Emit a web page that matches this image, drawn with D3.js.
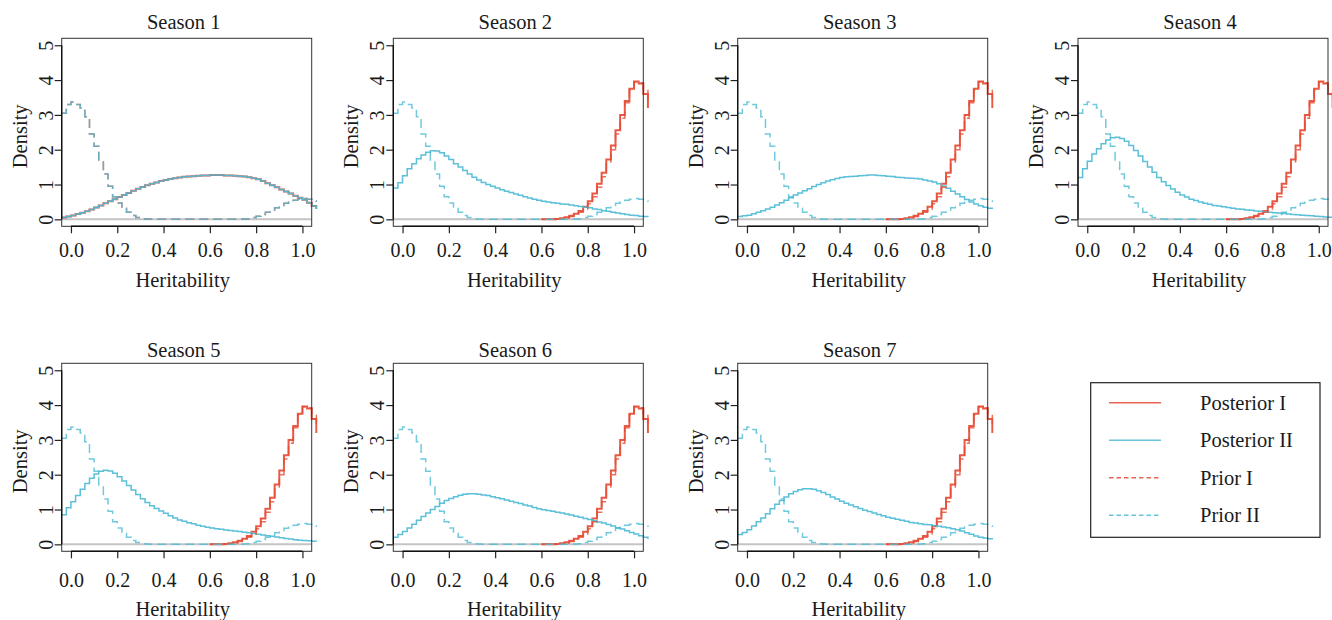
<!DOCTYPE html>
<html>
<head>
<meta charset="utf-8">
<script src="https://cdn.jsdelivr.net/npm/d3@7"></script>
<style>
  body { margin: 0; background: #fff; }
  svg text { font-family: "Liberation Serif", "DejaVu Serif", serif; fill: #1a1a1a; }
</style>
</head>
<body>
<div id="chart"></div>
<script>
// bin positions (step starts), width 0.02
var hx = [-0.04,-0.02,0.00,0.02,0.04,0.06,0.08,0.10,0.12,0.14,0.16,0.18,0.20,0.22,0.24,0.26,0.28,0.30,0.32,0.34,
  0.36,0.38,0.40,0.42,0.44,0.46,0.48,0.50,0.52,0.54,0.56,0.58,0.60,0.62,0.64,0.66,0.68,0.70,0.72,0.74,
  0.76,0.78,0.80,0.82,0.84,0.86,0.88,0.90,0.92,0.94,0.96,0.98,1.00,1.02,1.04,1.06];
// red curves are only drawn from 0.6 on
var hxTail = [0.60,0.62,0.64,0.66,0.68,0.70,0.72,0.74,0.76,0.78,0.80,0.82,0.84,0.86,0.88,0.90,0.92,0.94,0.96,0.98,
  1.00,1.02,1.04,1.06];

var seasons = ["Season 1", "Season 2", "Season 3", "Season 4", "Season 5", "Season 6", "Season 7"];
var xTicks = [0, 0.2, 0.4, 0.6, 0.8, 1.0];
var yTicks = [0, 1, 2, 3, 4, 5];
var legendLabels = ["Posterior I", "Posterior II", "Prior I", "Prior II"];

// Prior II (same in every season, also Prior I of season 1)
var priorII = [3.05,3.30,3.37,3.30,3.20,2.95,2.45,2.10,1.65,1.30,0.95,0.65,0.47,0.32,0.20,0.11,0.05,0.02,0.01,
  0,0,0,0,0,0,0,0,0,0,0,0,0,0,0,0,0,0,0,0,
  0.01,0.02,0.05,0.09,0.14,0.20,0.27,0.33,0.40,0.46,0.50,0.55,0.58,0.60,0.58,0.53,0.50];

// season 1 posterior (I and II coincide)
var postS1 = [0.05,0.08,0.11,0.15,0.19,0.23,0.28,0.34,0.40,0.46,0.52,0.58,0.64,0.70,0.76,0.82,0.88,0.93,0.98,1.02,
  1.06,1.10,1.13,1.16,1.18,1.20,1.22,1.23,1.24,1.25,1.26,1.26,1.27,1.27,1.27,1.26,1.26,1.25,1.24,1.23,
  1.21,1.18,1.15,1.10,1.04,0.98,0.92,0.86,0.80,0.74,0.68,0.62,0.56,0.48,0.38,0.30];

// seasons 2-7, on hxTail
var postI = [0,0,0,0.01,0.03,0.06,0.10,0.16,0.24,0.36,0.52,0.74,1.02,1.34,1.72,2.12,2.56,3.00,3.40,3.75,3.96,3.90,3.60,3.20];
var priorI = [0,0,0,0.01,0.02,0.04,0.08,0.13,0.20,0.30,0.45,0.65,0.92,1.22,1.60,2.00,2.45,2.90,3.35,3.72,3.95,3.92,3.70,3.45];

// Posterior II, seasons 2-7
var postII_s2 = [0.90,1.05,1.25,1.45,1.60,1.74,1.85,1.93,1.97,1.96,1.91,1.82,1.72,1.60,1.50,1.40,1.30,1.21,1.13,1.06,
  1.00,0.95,0.90,0.85,0.81,0.77,0.73,0.69,0.65,0.61,0.58,0.55,0.52,0.50,0.48,0.46,0.44,0.43,0.41,0.39,
  0.37,0.35,0.33,0.30,0.28,0.25,0.23,0.20,0.18,0.16,0.14,0.12,0.11,0.09,0.08,0.07];
var postII_s3 = [0.08,0.10,0.12,0.16,0.20,0.25,0.30,0.35,0.41,0.48,0.55,0.62,0.70,0.76,0.82,0.88,0.94,1.00,1.05,1.10,
  1.14,1.17,1.20,1.22,1.23,1.24,1.25,1.26,1.27,1.27,1.26,1.25,1.24,1.23,1.21,1.20,1.19,1.18,1.17,1.16,
  1.13,1.10,1.07,1.02,0.96,0.89,0.81,0.73,0.65,0.57,0.50,0.44,0.39,0.35,0.32,0.30];
var postII_s4 = [1.20,1.45,1.67,1.88,2.03,2.17,2.28,2.34,2.36,2.32,2.24,2.12,1.98,1.82,1.66,1.50,1.35,1.20,1.08,0.97,
  0.87,0.78,0.70,0.64,0.58,0.54,0.50,0.46,0.43,0.40,0.38,0.36,0.34,0.32,0.30,0.29,0.27,0.26,0.24,0.23,
  0.22,0.20,0.19,0.18,0.17,0.15,0.14,0.13,0.12,0.11,0.10,0.09,0.08,0.07,0.06,0.05];
var postII_s5 = [0.85,1.05,1.22,1.40,1.58,1.75,1.90,2.02,2.10,2.13,2.11,2.04,1.94,1.82,1.69,1.56,1.43,1.31,1.20,1.11,
  1.03,0.96,0.89,0.82,0.76,0.70,0.66,0.62,0.59,0.55,0.52,0.49,0.47,0.45,0.43,0.41,0.40,0.38,0.37,0.35,
  0.33,0.31,0.29,0.27,0.25,0.23,0.21,0.19,0.17,0.15,0.13,0.12,0.11,0.10,0.09,0.08];
var postII_s6 = [0.20,0.28,0.37,0.47,0.58,0.69,0.80,0.90,1.00,1.09,1.18,1.26,1.32,1.37,1.41,1.44,1.45,1.45,1.44,1.42,
  1.40,1.37,1.34,1.31,1.27,1.24,1.20,1.17,1.13,1.10,1.06,1.02,0.99,0.97,0.95,0.92,0.90,0.87,0.84,0.81,
  0.78,0.74,0.71,0.68,0.64,0.61,0.57,0.53,0.48,0.44,0.39,0.34,0.30,0.25,0.20,0.15];
var postII_s7 = [0.28,0.34,0.42,0.53,0.65,0.76,0.88,1.02,1.15,1.26,1.36,1.45,1.52,1.57,1.60,1.60,1.58,1.54,1.49,1.43,
  1.36,1.30,1.24,1.18,1.13,1.08,1.03,0.98,0.94,0.90,0.86,0.82,0.78,0.75,0.72,0.69,0.66,0.63,0.61,0.59,
  0.57,0.56,0.54,0.52,0.50,0.48,0.45,0.42,0.38,0.33,0.29,0.24,0.20,0.18,0.16,0.14];

var red = "#E64B35", cyan = "#4DBBD5";

// per-season series table: [xs, ys, colour, dashed]
function seriesFor(i) {
  if (i === 0) {
    return [[hx, postS1, red, false], [hx, postS1, cyan, false],
            [hx, priorII, red, true], [hx, priorII, cyan, true]];
  }
  var p2 = [null, postII_s2, postII_s3, postII_s4, postII_s5, postII_s6, postII_s7][i];
  return [[hxTail, postI, red, false], [hx, p2, cyan, false],
          [hxTail, priorI, red, true], [hx, priorII, cyan, true]];
}

var width = 1332, height = 620;
var bw = 250, bh = 188;
var colLeft = [61.7, 393.3, 737.7, 1078];
var rowTop = [38.3, 363.3];
var tickLabOff = [31, 36], xlabOff = [61, 65], titleOff = [-9, -6];
var FONT = "'Liberation Serif', 'DejaVu Serif', serif";

var svg = d3.select("#chart").append("svg")
  .attr("width", width).attr("height", height);

var x = d3.scaleLinear().domain([-0.04, 1.04]).range([0, bw]);
var y = d3.scaleLinear().domain([-0.2, 5.2]).range([bh, 0]);

var line = d3.line()
  .x(function (d) { return x(d[0]); })
  .y(function (d) { return y(d[1]); })
  .curve(d3.curveStepAfter);

svg.append("defs").append("clipPath").attr("id", "plotclip")
  .append("rect").attr("x", 0).attr("y", -2).attr("width", bw + 6).attr("height", bh + 4);

seasons.forEach(function (name, i) {
  var row = i < 4 ? 0 : 1, col = i % 4;
  var g = svg.append("g")
    .attr("transform", "translate(" + colLeft[col] + "," + rowTop[row] + ")");

  // zero line
  g.append("line")
    .attr("x1", 0).attr("x2", bw)
    .attr("y1", y(0)).attr("y2", y(0))
    .attr("stroke", "#c4c4c4").attr("stroke-width", 2);

  var lines = g.append("g").attr("clip-path", "url(#plotclip)");
  seriesFor(i).forEach(function (s) {
    var pts = s[0].map(function (v, k) { return [v, s[1][k]]; });
    lines.append("path")
      .attr("d", line(pts))
      .attr("fill", "none")
      .attr("stroke", s[2])
      .attr("stroke-opacity", s[3] ? 0.8 : 0.92)
      .attr("stroke-width", s[2] === red && !s[3] ? 2 : 1.5)
      .attr("stroke-dasharray", s[3] ? "9,5" : null);
  });

  // box
  g.append("rect")
    .attr("width", bw).attr("height", bh)
    .attr("fill", "none").attr("stroke", "#333").attr("stroke-width", 1);

  // x axis
  var xa = g.append("g")
    .attr("transform", "translate(0," + bh + ")")
    .call(d3.axisBottom(x).tickValues(xTicks).tickFormat(d3.format(".1f"))
      .tickSize(7).tickPadding(tickLabOff[row] - 7 - 14));
  xa.select(".domain").remove();
  xa.attr("font-family", FONT);
  xa.selectAll("line").attr("stroke", "#222").attr("stroke-width", 1.2);
  xa.selectAll("text").attr("font-size", 20).attr("fill", "#1a1a1a");
  xa.append("line").attr("x1", x(0)).attr("x2", x(1))
    .attr("stroke", "#111").attr("stroke-width", 1.4);

  // y axis
  var ya = g.append("g")
    .call(d3.axisLeft(y).tickValues(yTicks).tickFormat(d3.format("d")).tickSize(7));
  ya.select(".domain").remove();
  ya.attr("font-family", FONT);
  ya.selectAll("line").attr("stroke", "#222").attr("stroke-width", 1.2);
  ya.selectAll("text")
    .attr("x", null).attr("dy", null)
    .attr("text-anchor", "middle")
    .attr("transform", "translate(-9,0) rotate(-90)")
    .attr("font-size", 20).attr("fill", "#1a1a1a");
  ya.append("line").attr("y1", y(0)).attr("y2", y(5))
    .attr("stroke", "#111").attr("stroke-width", 1.4);

  // titles
  g.append("text")
    .attr("x", bw / 2 - 3).attr("y", titleOff[row])
    .attr("text-anchor", "middle").attr("font-size", 20.5)
    .text(name);
  g.append("text")
    .attr("x", bw / 2 - 4).attr("y", bh + xlabOff[row])
    .attr("text-anchor", "middle").attr("font-size", 20.5)
    .text("Heritability");
  g.append("text")
    .attr("transform", "translate(-35," + (bh / 2 + 4) + ") rotate(-90)")
    .attr("text-anchor", "middle").attr("font-size", 20.5)
    .text("Density");
});

// legend
var legendColors = [red, cyan, red, cyan];
var legendDash = [false, false, true, true];
var lg = svg.append("g").attr("transform", "translate(1090.7,382.7)");
lg.append("rect").attr("width", 229.3).attr("height", 154.6)
  .attr("fill", "#fff").attr("stroke", "#222").attr("stroke-width", 1.2);
var ly = d3.scalePoint().domain(legendLabels).range([20, 132.6]);
legendLabels.forEach(function (lab, k) {
  lg.append("line")
    .attr("x1", 18.3).attr("x2", 70.3)
    .attr("y1", ly(lab)).attr("y2", ly(lab))
    .attr("stroke", legendColors[k]).attr("stroke-opacity", 0.85).attr("stroke-width", 1.5)
    .attr("stroke-dasharray", legendDash[k] ? "4.5,3" : null);
  lg.append("text")
    .attr("x", 109.3).attr("y", ly(lab) + 7)
    .attr("font-size", 20.5)
    .text(lab);
});
</script>
</body>
</html>
